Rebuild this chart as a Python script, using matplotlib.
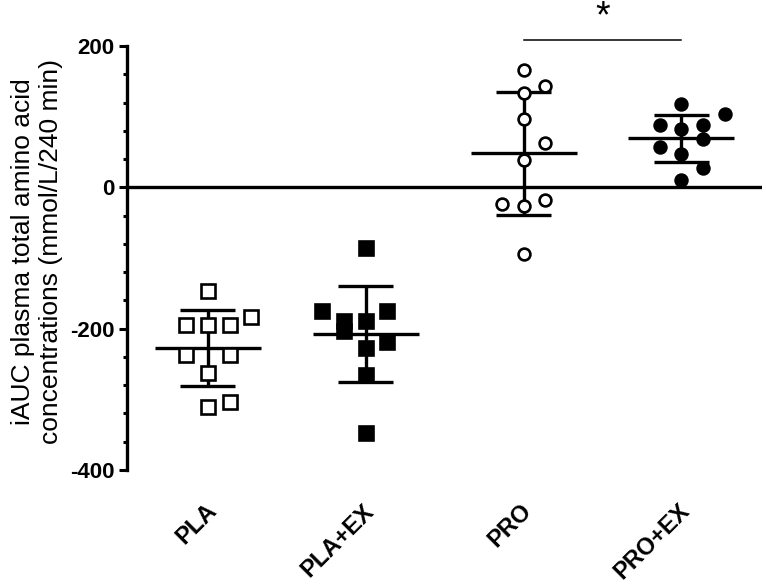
import matplotlib
matplotlib.use("Agg")
import matplotlib.pyplot as plt
import numpy as np

# values (iAUC, mmol/L/240 min)
groups = ["PLA", "PLA+EX", "PRO", "PRO+EX"]
pla = [-147, -195, -195, -195, -184, -238, -238, -263, -311, -304]
pla_ex = [-86, -175, -175, -189, -203, -189, -219, -228, -265, -348]
pro = [166, 144, 133, 97, 63, 39, -23, -26, -18, -95]
pro_ex = [118, 104, 88, 83, 88, 69, 57, 47, 27, 11]

# scatter slots so the dots do not sit on top of each other (layout only)
slots = [
    [0, -1, 0, 1, 2, -1, 1, 0, 0, 1],
    [0, -2, 1, -1, -1, 0, 1, 0, 0, 0],
    [0, 1, 0, 0, 1, 0, -1, 0, 1, 0],
    [0, 2, -1, 0, 1, 1, -1, 0, 1, 0],
]
slot_w = 0.1375

plt.rcParams['font.family'] = ['Liberation Sans', 'DejaVu Sans']
plt.rcParams['axes.unicode_minus'] = False

fig = plt.figure(figsize=(7.66, 5.86), dpi=100)
ax = fig.add_axes([0.1658, 0.198, 0.829, 0.7235])

# marker style per group: (marker, face colour, size)
styles = [("s", "white", 9.5), ("s", "black", 9.5), ("o", "white", 8.5), ("o", "black", 8.5)]
all_data = [pla, pla_ex, pro, pro_ex]

for i, (vals, sl, st) in enumerate(zip(all_data, slots, styles)):
    vals = np.array(vals, dtype=float)
    xs = i + np.array(sl) * slot_w
    mean = vals.mean()
    sd = vals.std(ddof=1)
    # mean line, SD whiskers and caps
    ax.hlines(mean, i - 0.336, i + 0.336, color="black", lw=2.4, zorder=2)
    ax.vlines(i, mean - sd, mean + sd, color="black", lw=2.4, zorder=2)
    ax.hlines([mean - sd, mean + sd], i - 0.174, i + 0.174, color="black", lw=2.4, zorder=2)
    ax.plot(xs, vals, linestyle="none", marker=st[0], markersize=st[2],
            markerfacecolor=st[1], markeredgecolor="black", markeredgewidth=1.9, zorder=3)

# zero line across the plot
ax.axhline(0, color="black", lw=2.4, zorder=1)

# significance bar between PRO and PRO+EX
ax.plot([2, 3], [208, 208], color="black", lw=1.1, clip_on=False)
ax.text(2.5, 240, "*", ha="center", va="center", fontsize=27, clip_on=False)

ax.set_xlim(-0.513, 3.511)
ax.set_ylim(-400, 200)
ax.set_yticks([-400, -200, 0, 200])
ax.set_yticks(np.arange(-400, 201, 40), minor=True)
ax.set_xticks(np.arange(4) + 0.03)
ax.set_xticklabels(groups, rotation=45, ha="right", va="center",
                   rotation_mode="anchor", fontsize=17, fontweight="bold")
for lab in ax.get_yticklabels():
    lab.set_fontsize(16)
    lab.set_fontweight("bold")

for s in ["top", "right", "bottom"]:
    ax.spines[s].set_visible(False)
ax.spines["left"].set_linewidth(2.4)
ax.tick_params(axis="y", which="major", length=6, width=2.2, pad=3)
ax.tick_params(axis="y", which="minor", length=3, width=2.2)
ax.tick_params(axis="x", length=0, pad=27)

fig.text(37 / 766, 1 - 252 / 586,
         "iAUC plasma total amino acid\nconcentrations (mmol/L/240 min)",
         rotation=90, ha="center", va="center", multialignment="center", fontsize=19)

fig.savefig("out.png", dpi=100)
